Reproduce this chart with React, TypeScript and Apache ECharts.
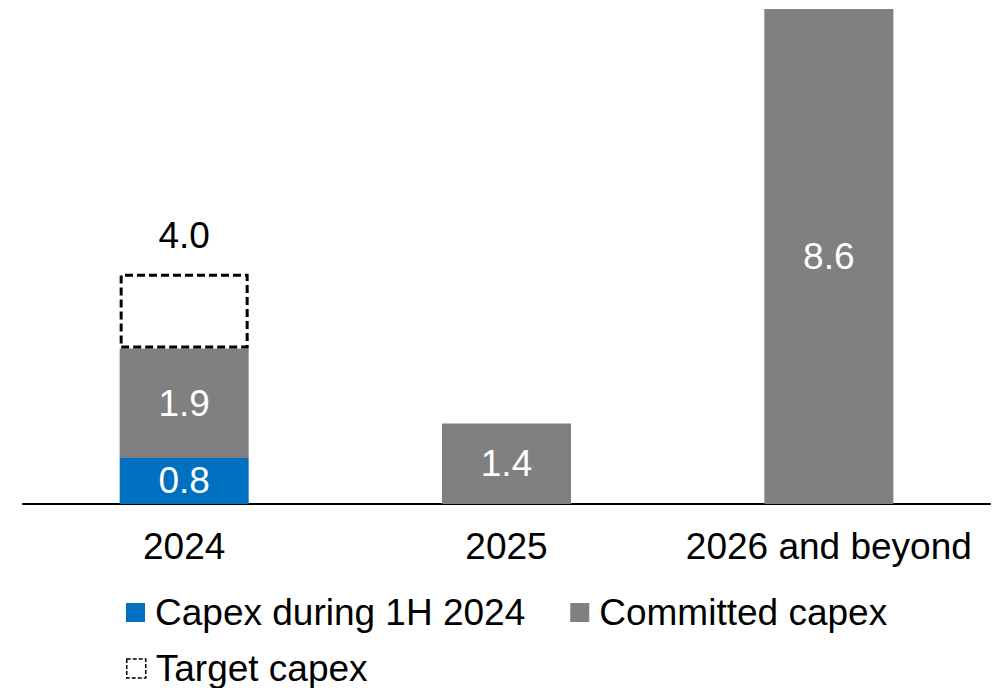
import React, { useEffect, useRef } from "react";
import * as echarts from "echarts";

const categories = ["2024", "2025", "2026 and beyond"];
const capex1H = [0.8, null, null];
const committed = [1.9, 1.4, 8.6];
const targetTotal = [4.0, null, null];
const targetSegment = targetTotal.map((t, i) =>
  t == null ? null : +(t - (capex1H[i] || 0) - (committed[i] || 0)).toFixed(2)
);

const FONT = "Arial, 'Liberation Sans', sans-serif";

export default function App() {
  const ref = useRef<HTMLDivElement>(null);
  useEffect(() => {
    document.body.style.margin = "0";
    const chart = echarts.init(ref.current!, null, { renderer: "svg" });
    const legendText = { fontSize: 37, lineHeight: 37, color: "#000", fontFamily: FONT, padding: [0, 0, 0, 5] };
    chart.setOption({
      animation: false,
      textStyle: { fontFamily: FONT },
      grid: { left: 23, right: 3, top: 9, bottom: 184 },
      xAxis: {
        type: "category",
        data: categories,
        axisLine: { lineStyle: { color: "#000", width: 2 } },
        axisTick: { show: false },
        axisLabel: { color: "#000", fontSize: 37, margin: 24, interval: 0, fontFamily: FONT },
      },
      yAxis: { type: "value", min: 0, max: 8.6, show: false, splitLine: { show: false } },
      legend: [
        {
          data: ["Capex during 1H 2024", "Committed capex"],
          left: 126,
          top: 594,
          padding: 0,
          itemWidth: 19,
          itemHeight: 19,
          itemGap: 45,
          icon: "rect",
          textStyle: legendText,
        },
        {
          data: [
            {
              name: "Target capex",
              itemStyle: { color: "#fff", borderColor: "#000", borderWidth: 1.5, borderType: [4, 2] },
            },
          ],
          left: 126,
          top: 650,
          padding: 0,
          itemWidth: 19,
          itemHeight: 19,
          icon: "rect",
          textStyle: legendText,
        },
      ],
      series: [
        {
          name: "Capex during 1H 2024",
          type: "bar",
          stack: "a",
          barWidth: 129,
          data: capex1H,
          itemStyle: { color: "#0070C0" },
          label: { show: true, position: "inside", color: "#fff", fontSize: 37, fontFamily: FONT, formatter: (p: any) => p.value.toFixed(1) },
        },
        {
          name: "Committed capex",
          type: "bar",
          stack: "a",
          barWidth: 129,
          data: committed,
          itemStyle: { color: "#808080" },
          label: { show: true, position: "inside", color: "#fff", fontSize: 37, fontFamily: FONT, formatter: (p: any) => p.value.toFixed(1) },
        },
        {
          name: "Target capex",
          type: "bar",
          stack: "a",
          barWidth: 129,
          data: targetSegment,
          itemStyle: { color: "#fff", borderColor: "#000", borderWidth: 3, borderType: [8, 4] },
          label: {
            show: true,
            position: "top",
            distance: 20,
            color: "#000",
            fontSize: 37,
            fontFamily: FONT,
            formatter: (p: any) => (targetTotal[p.dataIndex] as number).toFixed(1),
          },
        },
      ],
    });
    return () => chart.dispose();
  }, []);
  return <div ref={ref} style={{ width: 993, height: 688 }} />;
}
